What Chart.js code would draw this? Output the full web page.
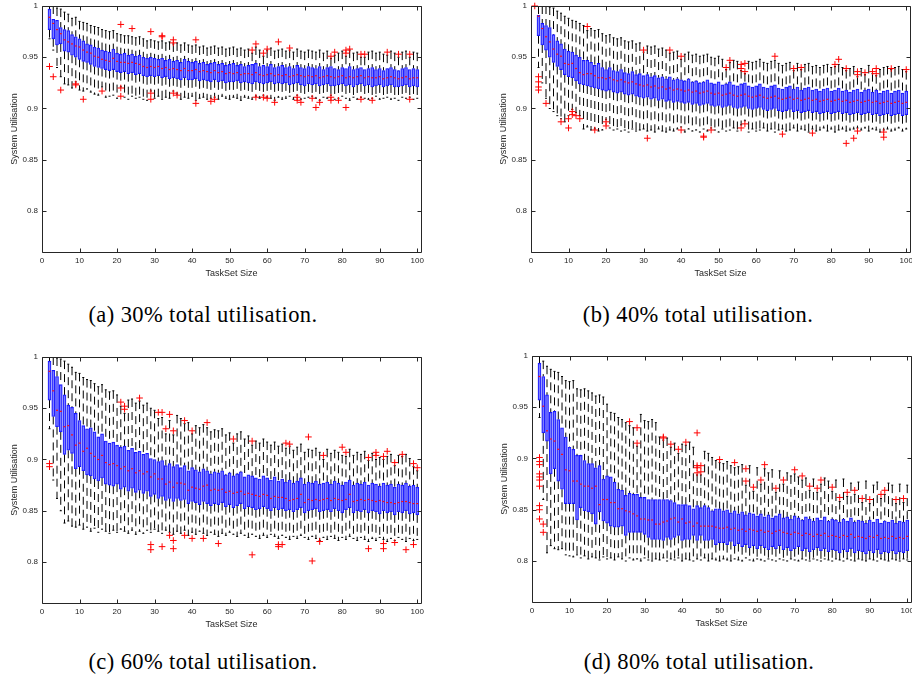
<!DOCTYPE html>
<html>
<head>
<meta charset="utf-8">
<script src="https://cdn.jsdelivr.net/npm/chart.js@4.4.1/dist/chart.umd.min.js"></script>
<style>
  body { margin: 0; background: #fff; width: 912px; height: 681px; position: relative; overflow: hidden; }
  canvas { position: absolute; }
  .cap { position: absolute; width: 420px; text-align: center; font-family: "Liberation Serif", "DejaVu Serif", serif; font-size: 22.5px; letter-spacing: 0.4px; color: #000; white-space: nowrap; }
</style>
</head>
<body>
<canvas id="chart30" width="430" height="282" style="left:0;top:0"></canvas>
<canvas id="chart40" width="430" height="282" style="left:489px;top:0"></canvas>
<canvas id="chart60" width="430" height="282" style="left:0;top:351px"></canvas>
<canvas id="chart80" width="430" height="282" style="left:490px;top:350px"></canvas>
<div class="cap" id="cap0" style="left:-7px;top:302px"></div>
<div class="cap" id="cap1" style="left:488px;top:302px"></div>
<div class="cap" id="cap2" style="left:-7px;top:649px"></div>
<div class="cap" id="cap3" style="left:489px;top:649px"></div>
<script>
// box plot statistics, values in thousandths of system utilisation
const taskSizes = [1,2,3,4,5,6,7,8,9,10,11,12,13,14,15,16,17,18,19,20,21,22,23,24,25,26,27,28,29,30,31,32,33,34,35,36,37,38,39,40,41,42,43,44,45,46,47,48,49,50,51,52,53,54,55,56,57,58,59,60,61,62,63,64,65,66,67,68,69,70,71,72,73,74,75,76,77,78,79,80,81,82,83,84,85,86,87,88,89,90,91,92,93,94,95,96,97,98,99,100];
const xTicks = [0,10,20,30,40,50,60,70,80,90,100];
const yTicks = [0.8,0.85,0.9,0.95,1];
const captions = ['(a) 30% total utilisation.', '(b) 40% total utilisation.', '(c) 60% total utilisation.', '(d) 80% total utilisation.'];

// (a) 30%
const u30Hi = [1000,1000,1000,998,997,994,992,988,989,985, 984,983,981,980,979,977,976,975,976,973, 972,971,971,970,969,970,968,966,967,966, 965,966,964,965,963,964,962,964,962,961,
  962,960,961,959,960,961,959,960,958,959, 960,958,959,957,958,954,960,957,951,957, 959,956,957,958,956,957,955,958,956,955, 957,956,955,957,954,956,949,952,954,956,
  951,957,954,955,950,950,955,956,954,955, 953,952,956,954,950,955,956,950,955,954];
const u30Q3 = [1000,997,987,986,979,977,976,972,970,968, 966,963,962,960,959,957,956,955,958,954, 953,954,952,953,951,952,950,949,950,949, 948,949,947,948,946,947,945,948,946,945,
  946,944,945,943,944,945,943,944,942,943, 944,942,943,941,942,943,944,941,942,941, 943,940,941,942,940,941,939,942,940,939, 941,940,939,941,938,940,941,939,938,940,
  939,941,938,939,940,938,939,940,938,939, 937,939,940,938,937,939,940,938,939,938];
const u30Med = [1000,989,983,977,973,967,965,963,961,960, 957,955,954,951,950,948,947,946,949,946, 945,945,944,945,944,943,941,940,941,940, 941,939,940,938,939,938,937,939,937,937,
  938,936,937,936,935,937,935,936,934,935, 934,935,933,934,934,933,935,933,932,933, 934,932,933,932,933,931,932,933,932,931, 932,931,932,930,931,932,931,930,931,932,
  930,931,930,931,932,930,931,930,930,931, 929,930,931,930,929,930,931,929,930,930];
const u30Q1 = [1000,977,968,962,963,956,955,952,950,948, 946,945,943,941,940,939,938,937,938,936, 935,936,934,935,933,934,932,931,932,931, 932,930,931,929,930,929,928,930,928,928,
  929,927,928,927,926,928,926,927,925,926, 926,927,925,926,925,924,926,925,924,925, 926,924,925,924,925,923,924,925,923,922, 924,923,924,922,923,924,922,922,923,924,
  922,923,921,923,924,922,923,921,922,923, 921,922,923,921,921,922,923,921,922,921];
const u30Lo = [1000,968,957,940,931,924,923,920,926,918, 917,919,916,914,913,921,911,912,913,910, 921,911,909,912,910,911,909,908,917,910, 912,909,911,910,917,914,909,911,910,912,
  908,910,911,909,910,911,909,912,910,909, 911,910,908,911,910,909,912,910,913,911, 910,908,911,909,910,912,909,913,909,910, 911,912,910,908,911,910,913,909,910,912,
  910,908,911,909,911,910,909,910,912,909, 910,911,909,910,908,911,910,911,909,910];
const u30OutX = [2,3,5,9,9,11,16,21,21,21,24,29,29,29,32,32,35,35,35,36,41,41,45,46,56,57,57,59,59,60,60,62,63,66,68,68,69,72,73,74,77,77,77,78,79,81,81,81,82,85,85,86,88,92,95,98,98];
const u30OutY = [941,931,918,923,924,909,917,982,920,912,978,975,915,909,971,970,967,964,915,913,967,905,907,909,957,963,911,954,911,958,910,906,965,959,911,908,906,910,901,906,951,911,908,955,908,954,957,901,958,953,909,953,908,955,953,953,909];

// (b) 40%
const u40Hi = [1000,1000,1000,1000,999,998,995,993,990,988, 986,985,983,981,976,978,976,977,973,971, 972,969,968,969,966,965,966,963,964,955, 961,960,961,958,959,957,954,955,956,948,
  953,955,952,953,951,952,953,950,949,951, 948,938,945,947,946,937,934,946,945,946, 948,945,944,946,947,944,942,944,945,937, 944,938,943,944,941,942,940,942,943,940,
  941,943,940,937,939,941,931,939,933,942, 934,932,938,940,941,938,940,941,938,936];
const u40Q3 = [1000,991,983,981,979,972,966,963,958,956, 955,952,950,947,947,945,942,944,940,938, 940,937,936,938,935,934,936,933,934,932, 933,931,932,930,931,929,931,928,929,928,
  927,929,926,927,925,926,928,925,924,926, 923,924,926,923,922,924,925,922,921,922, 924,921,920,922,923,920,919,921,922,919, 921,918,920,921,918,919,917,919,920,917,
  918,920,917,918,916,918,919,916,918,919, 916,918,915,917,918,915,917,918,915,917];
const u40Med = [1000,990,978,970,965,958,953,951,944,943, 944,939,935,933,934,934,932,930,930,929, 930,928,927,928,926,925,926,924,923,922, 923,921,922,920,921,919,920,918,919,918,
  917,918,916,917,915,916,917,915,914,915, 913,914,915,913,912,913,914,912,911,912, 913,911,910,911,912,910,909,910,911,909, 910,908,909,910,908,909,907,908,909,907,
  908,909,907,908,906,907,908,906,907,908, 906,907,905,906,907,905,906,907,905,906];
const u40Q1 = [1000,971,962,957,950,945,941,938,933,931, 930,927,924,923,922,921,920,919,918,917, 918,916,915,916,914,913,914,912,911,910, 911,909,910,908,909,907,908,906,907,906,
  905,906,904,905,903,904,905,903,902,903, 901,902,903,901,900,901,902,900,899,900, 901,899,898,899,900,898,897,898,899,897, 898,896,897,898,896,897,895,896,897,895,
  896,897,895,896,894,895,896,894,895,896, 894,895,893,894,895,893,894,895,893,894];
const u40Lo = [1000,940,925,910,900,897,893,890,887,893, 899,896,893,880,882,879,880,878,879,889, 881,879,880,878,879,877,880,878,879,880, 878,879,877,880,878,877,879,878,880,882,
  877,880,878,879,877,880,878,881,879,877, 880,878,879,881,878,884,888,877,880,878, 879,881,878,880,877,879,880,878,879,881, 878,880,879,877,880,878,879,881,878,880,
  877,879,880,878,879,880,881,879,881,878, 880,879,877,879,880,878,879,881,878,880];
const u40OutX = [1,2,2,2,2,4,8,10,10,11,11,12,13,15,17,20,20,30,31,37,40,40,46,46,48,52,53,56,56,56,57,57,57,65,67,70,72,75,81,82,84,84,86,87,87,87,89,91,92,92,94,94,96,100];
const u40OutY = [1000,931,926,921,918,905,887,890,881,897,894,893,890,980,879,887,883,957,871,957,951,879,873,872,879,940,947,943,939,881,944,936,885,951,875,939,940,876,943,948,939,866,871,936,933,878,935,936,939,934,877,872,939,938];

// (c) 60%
const u60Hi = [1000,1000,1000,999,998,996,993,990,985,984, 980,978,977,974,971,973,968,966,967,963, 952,945,958,959,955,957,953,955,950,948, 940,941,925,938,924,943,940,935,936,925,
  933,931,934,931,927,929,928,930,924,926, 916,925,927,920,923,914,918,916,920,917, 914,917,913,915,911,913,909,912,915,907, 910,909,911,907,900,910,906,909,907,904,
  903,910,904,907,905,908,899,906,900,902, 900,903,905,894,904,903,905,901,893,889];
const u60Q3 = [1000,996,987,981,973,963,953,951,945,938, 933,930,931,927,922,925,918,916,917,914, 912,913,909,911,907,908,905,906,901,900, 898,899,894,896,893,895,892,894,889,892,
  890,888,891,889,886,888,887,889,885,887, 884,886,888,883,885,884,882,881,884,882, 880,883,879,881,878,880,877,879,882,876, 878,877,879,876,877,878,876,879,877,875,
  878,880,875,877,876,878,875,877,876,874, 877,875,876,873,876,875,877,874,875,873];
const u60Med = [1000,986,967,948,947,932,933,924,914,916, 908,911,906,903,900,904,897,895,896,894, 891,893,889,891,887,889,886,888,883,886, 881,881,876,878,873,877,877,876,870,873,
  872,871,874,875,870,871,870,871,868,869, 867,868,869,866,867,866,865,864,866,865, 862,864,863,863,862,860,861,862,866,858, 861,860,861,860,861,862,860,862,861,860,
  861,866,859,860,861,860,861,860,859,860, 859,858,858,857,858,859,859,858,857,857];
const u60Q1 = [1000,958,942,932,927,905,909,906,891,893, 889,885,884,881,879,882,876,875,874,876, 871,873,869,872,868,870,867,869,864,866, 862,864,860,862,859,862,860,861,857,859,
  858,856,859,857,855,857,856,858,854,856, 853,855,857,852,854,853,851,852,854,852, 850,853,851,852,850,851,849,851,853,848, 850,851,852,849,850,851,849,852,850,848,
  851,853,848,850,849,851,848,850,849,847, 850,848,849,846,849,848,850,847,848,846];
const u60Lo = [1000,930,880,862,850,838,840,835,834,836, 832,834,830,833,829,832,830,828,831,829, 832,830,828,831,827,830,828,831,829,832, 830,828,831,829,827,830,828,831,826,829,
  827,830,828,826,829,827,825,828,826,829, 827,825,828,826,824,827,825,823,826,824, 827,825,823,826,824,822,825,823,826,824, 822,825,823,821,824,822,825,823,821,824,
  822,825,823,821,824,822,820,823,821,824, 822,820,823,821,824,822,820,823,821,822];
const u60OutX = [2,2,21,22,22,26,29,29,31,32,32,33,34,34,35,35,35,38,38,40,40,43,44,47,51,56,56,63,63,64,65,66,71,72,74,75,80,81,87,87,89,89,91,91,91,92,94,94,96,97,99,99,100];
const u60OutY = [896,893,956,952,949,960,817,812,946,946,815,930,944,826,928,821,813,938,826,928,823,823,936,818,920,918,807,817,815,817,916,915,922,801,820,904,912,907,902,813,907,904,903,818,813,908,897,819,905,812,896,817,892];

// (d) 80%
const u80Hi = [1000,1000,995,990,987,985,984,980,976,975, 976,968,967,968,966,964,961,962,960,953, 945,944,940,938,935,932,930,912,943,937, 936,938,935,921,918,920,911,915,905,914,
  913,916,911,884,884,907,905,901,898,896, 895,897,893,891,892,894,874,893,868,891, 875,890,886,889,867,888,875,886,883,885, 882,879,881,869,880,867,875,881,878,868,
  879,858,880,863,876,865,877,857,878,856, 874,877,861,865,876,874,856,875,857,874];
const u80Q3 = [1000,993,980,962,945,946,938,930,921,911, 909,903,903,898,895,895,891,893,880,883, 882,877,870,869,864,866,865,865,862,862, 860,860,860,860,860,860,859,857,855,855,
  855,854,851,854,852,854,852,849,851,851, 849,850,847,849,846,848,845,847,846,844, 846,843,845,842,844,846,842,843,841,844, 842,840,843,841,839,842,840,843,839,841,
  840,838,841,839,842,838,840,839,837,840, 838,841,837,839,838,840,837,839,838,840];
const u80Med = [1000,980,951,927,919,917,909,904,889,888, 878,878,875,873,873,871,873,855,860,860, 857,857,851,851,849,848,846,844,841,841, 840,840,836,836,838,839,841,842,838,841,
  837,838,834,837,834,834,834,834,833,832, 832,833,831,832,830,831,829,831,830,829, 830,828,829,827,829,830,828,827,826,828, 827,825,827,826,824,826,825,827,824,825,
  824,823,825,824,826,823,824,823,822,824, 823,825,822,823,822,824,822,823,822,824];
const u80Q1 = [1000,957,925,917,885,890,878,870,856,856, 856,840,852,849,848,846,836,848,839,837, 834,833,833,834,825,828,828,828,828,826, 823,821,821,821,820,823,821,823,825,820,
  821,821,825,820,825,820,820,821,816,818, 818,816,819,815,817,814,816,813,815,812, 815,813,811,814,812,815,811,813,810,812, 814,810,812,809,811,813,810,812,809,811,
  810,808,811,809,812,808,810,809,807,810, 808,811,807,809,808,810,807,809,808,810];
const u80Lo = [1000,940,860,808,815,812,811,812,806,805, 804,806,803,805,802,804,803,801,804,802, 803,801,804,802,800,803,801,802,800,803, 801,800,802,801,803,800,802,801,803,800,
  802,801,800,802,801,803,800,802,801,800, 802,801,800,802,801,800,803,801,800,802, 801,800,802,801,800,802,801,800,802,801, 800,802,801,800,802,801,800,802,801,800,
  802,801,800,802,801,800,802,801,800,802, 801,800,802,801,800,802,801,800,802,801];
const u80OutX = [2,2,2,2,2,2,2,2,2,2,3,3,26,28,28,35,35,37,39,41,44,44,44,44,45,45,50,54,57,57,59,61,62,65,67,70,72,74,76,77,80,82,84,86,88,90,93,94,97,99];
const u80OutY = [901,897,894,885,882,879,873,854,850,841,836,828,936,930,915,921,920,914,909,916,925,893,891,886,893,887,899,896,878,890,872,879,894,871,879,889,883,873,871,879,872,862,867,869,861,860,865,869,860,861];

const AXIS_COLOR = '#262626';
const SANS = '"Liberation Sans", Arial, Helvetica, sans-serif';

// MATLAB style axes box with inward ticks on all four sides
const boxFrame = {
  id: 'boxFrame',
  afterDraw(chart) {
    const { ctx, chartArea: a, scales: { x, y } } = chart;
    const L = Math.round(a.left) + 0.5, R = Math.round(a.right) + 0.5;
    const T = Math.round(a.top) + 0.5, B = Math.round(a.bottom) + 0.5;
    ctx.save();
    ctx.strokeStyle = AXIS_COLOR;
    ctx.lineWidth = 1;
    ctx.beginPath();
    ctx.rect(L, T, R - L, B - T);
    x.ticks.forEach(t => {
      const px = Math.round(x.getPixelForValue(t.value)) + 0.5;
      ctx.moveTo(px, B); ctx.lineTo(px, B - 4);
      ctx.moveTo(px, T); ctx.lineTo(px, T + 4);
    });
    y.ticks.forEach(t => {
      const py = Math.round(y.getPixelForValue(t.value)) + 0.5;
      ctx.moveTo(L, py); ctx.lineTo(L + 4, py);
      ctx.moveTo(R, py); ctx.lineTo(R - 4, py);
    });
    ctx.stroke();
    ctx.restore();
  }
};

function buildBoxChart(canvasId, lo, q1, med, q3, hi, outX, outY) {
  const whiskers = [];
  const caps = [];
  const boxes = [];
  const medians = [];
  taskSizes.forEach((n, k) => {
    whiskers.push({ x: n, y: hi[k] / 1000 }, { x: n, y: q3[k] / 1000 }, { x: n, y: null });
    whiskers.push({ x: n, y: q1[k] / 1000 }, { x: n, y: lo[k] / 1000 }, { x: n, y: null });
    caps.push({ x: n, y: hi[k] / 1000 }, { x: n, y: lo[k] / 1000 });
    boxes.push({ x: n, y: [q1[k] / 1000, q3[k] / 1000] });
    medians.push({ x: n, y: med[k] / 1000 });
  });
  const outliers = outX.map((n, k) => ({ x: n, y: outY[k] / 1000 }));

  const ctx = document.getElementById(canvasId).getContext('2d');
  return new Chart(ctx, {
    type: 'scatter',
    data: {
      datasets: [
        {
          type: 'scatter',
          data: outliers,
          pointStyle: 'cross',
          pointRadius: 3.3,
          borderColor: '#ff0000',
          borderWidth: 1,
          clip: false,
        },
        {
          type: 'scatter',
          data: medians,
          pointStyle: 'line',
          pointRadius: 1,
          borderColor: '#ff1010',
          borderWidth: 1.2,
        },
        {
          type: 'bar',
          data: boxes,
          barThickness: 3,
          borderColor: 'rgba(10, 10, 255, 0.95)',
          backgroundColor: 'rgba(115, 115, 255, 0.6)',
          borderWidth: 0.9,
          borderSkipped: false,
        },
        {
          type: 'scatter',
          data: caps,
          pointStyle: 'line',
          pointRadius: 1,
          borderColor: '#000000',
          borderWidth: 1,
        },
        {
          type: 'line',
          data: whiskers,
          borderColor: '#000000',
          borderWidth: 1,
          borderDash: [8, 5],
          pointRadius: 0,
          spanGaps: false,
          tension: 0,
        },
      ],
    },
    options: {
      responsive: false,
      animation: false,
      events: [],
      layout: { padding: { top: 6, right: 9, left: 0, bottom: 0 } },
      plugins: { legend: { display: false }, tooltip: { enabled: false } },
      scales: {
        x: {
          type: 'linear',
          min: 0,
          max: 101,
          offset: false,
          bounds: 'data',
          afterBuildTicks: (s) => { s.ticks = xTicks.map(v => ({ value: v })); },
          afterFit: (s) => { s.height = 30; s.paddingLeft = 0; s.paddingRight = 0; },
          grid: { display: false, drawTicks: false },
          border: { display: false },
          ticks: { color: AXIS_COLOR, font: { family: SANS, size: 8 }, padding: 4, maxRotation: 0, autoSkip: false },
          title: { display: true, text: 'TaskSet Size', color: AXIS_COLOR, font: { family: SANS, size: 9 }, padding: { top: 0, bottom: 3 } },
        },
        y: {
          type: 'linear',
          min: 0.76,
          max: 1,
          bounds: 'data',
          afterBuildTicks: (s) => { s.ticks = yTicks.map(v => ({ value: v })); },
          afterFit: (s) => { s.width = 42; s.paddingTop = 0; s.paddingBottom = 0; },
          grid: { display: false, drawTicks: false },
          border: { display: false },
          ticks: { color: AXIS_COLOR, font: { family: SANS, size: 8 }, padding: 4, callback: (v) => String(v) },
          title: { display: true, text: 'System Utilisation', color: AXIS_COLOR, font: { family: SANS, size: 9 }, padding: { top: 9, bottom: 0 } },
        },
      },
    },
    plugins: [boxFrame],
  });
}

buildBoxChart('chart30', u30Lo, u30Q1, u30Med, u30Q3, u30Hi, u30OutX, u30OutY);
buildBoxChart('chart40', u40Lo, u40Q1, u40Med, u40Q3, u40Hi, u40OutX, u40OutY);
buildBoxChart('chart60', u60Lo, u60Q1, u60Med, u60Q3, u60Hi, u60OutX, u60OutY);
buildBoxChart('chart80', u80Lo, u80Q1, u80Med, u80Q3, u80Hi, u80OutX, u80OutY);

captions.forEach((text, k) => { document.getElementById('cap' + k).textContent = text; });
</script>
</body>
</html>
